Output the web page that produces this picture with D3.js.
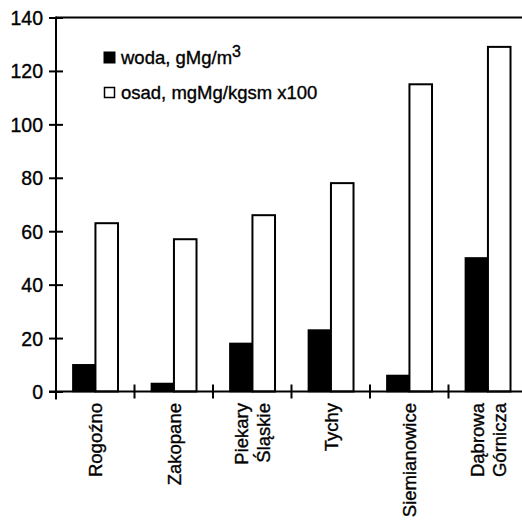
<!DOCTYPE html>
<html>
<head>
<meta charset="utf-8">
<script src="https://cdn.jsdelivr.net/npm/d3@7/dist/d3.min.js"></script>
<style>
  html, body { margin: 0; padding: 0; background: #fff; }
  svg text { font-family: "Liberation Sans", Arial, sans-serif; fill: #000; stroke: #000; stroke-width: 0.35px; }
</style>
</head>
<body>
<svg id="chart" width="522" height="520"></svg>
<script>
const categories = [["Rogoźno"], ["Zakopane"], ["Piekary", "Śląskie"], ["Tychy"], ["Siemianowice"], ["Dąbrowa", "Górnicza"]];
const seriesNames = ["woda", "osad"];
const woda = [10, 3, 18, 23, 6, 50];
const osad = [63, 57, 66, 78, 115, 129];
const yTicks = [0, 20, 40, 60, 80, 100, 120, 140];

const svg = d3.select("#chart");
const plotLeft = 56, plotTop = 17.5, plotBottom = 391.5, plotRight = 527;

const keys = categories.map(c => c.join(" "));
const x = d3.scaleBand().domain(keys).range([plotLeft, plotRight]).paddingInner(0).paddingOuter(0);
const gw = x.bandwidth();
const xs = d3.scaleBand().domain(seriesNames).range([gw * 0.215, gw * 0.79]).paddingInner(0);
const y = d3.scaleLinear().domain([0, 140]).range([plotBottom, plotTop]);

const data = keys.map((k, i) => ({ key: k, woda: woda[i], osad: osad[i] }));

// bars
const g = svg.append("g");
data.forEach(d => {
  g.append("rect")
    .attr("x", x(d.key) + xs("woda"))
    .attr("y", y(d.woda))
    .attr("width", xs.bandwidth())
    .attr("height", y(0) - y(d.woda))
    .attr("fill", "#000")
    .attr("stroke", "#000")
    .attr("stroke-width", 1.5);
  g.append("rect")
    .attr("x", x(d.key) + xs("osad"))
    .attr("y", y(d.osad))
    .attr("width", xs.bandwidth())
    .attr("height", y(0) - y(d.osad))
    .attr("fill", "#fff")
    .attr("stroke", "#000")
    .attr("stroke-width", 2);
});

// top frame line
svg.append("line").attr("x1", plotLeft).attr("x2", 522).attr("y1", y(140)).attr("y2", y(140))
  .attr("stroke", "#000").attr("stroke-width", 2);

// y axis
const yAxis = d3.axisLeft(y).tickValues(yTicks).tickSize(0).tickPadding(0);
const ya = svg.append("g").attr("transform", `translate(${plotLeft},0)`).call(yAxis);
ya.select(".domain").remove();
ya.selectAll(".tick line").remove();
ya.selectAll(".tick").append("line").attr("x1", -7).attr("x2", 7).attr("stroke", "#000").attr("stroke-width", 2);
ya.selectAll(".tick text").attr("x", -13).attr("dy", "0.36em")
  .style("font-size", "19.5px").attr("font-family", null);
svg.append("line").attr("x1", plotLeft).attr("x2", plotLeft).attr("y1", y(140) - 1).attr("y2", plotBottom + 8)
  .attr("stroke", "#000").attr("stroke-width", 2);

// x axis baseline
svg.append("line").attr("x1", plotLeft - 7).attr("x2", 522).attr("y1", plotBottom).attr("y2", plotBottom)
  .attr("stroke", "#000").attr("stroke-width", 2);
// group boundary ticks
keys.forEach(k => {
  const xx = x(k);
  if (xx > plotLeft + 1) {
    svg.append("line").attr("x1", xx).attr("x2", xx).attr("y1", plotBottom - 7).attr("y2", plotBottom + 7)
      .attr("stroke", "#000").attr("stroke-width", 2);
  }
});

// x labels (rotated)
categories.forEach((lines, i) => {
  const cx = x(keys[i]) + gw / 2;
  const n = lines.length;
  lines.forEach((t, j) => {
    const off = (j - (n - 1) / 2) * 22;
    svg.append("text")
      .attr("transform", `translate(${cx + off + 7},403) rotate(-90)`)
      .attr("text-anchor", "end")
      .style("font-size", "18.5px")
      .text(t);
  });
});

// legend
const lg = svg.append("g");
lg.append("rect").attr("x", 104).attr("y", 52).attr("width", 11).attr("height", 11)
  .attr("fill", "#000").attr("stroke", "#000").attr("stroke-width", 1);
const t1 = lg.append("text").attr("x", 121).attr("y", 64).style("font-size", "18.5px");
t1.append("tspan").text("woda, gMg/m");
t1.append("tspan").attr("dy", -7).style("font-size", "16px").text("3");
lg.append("rect").attr("x", 104.5).attr("y", 87.5).attr("width", 10).attr("height", 10)
  .attr("fill", "#fff").attr("stroke", "#000").attr("stroke-width", 1.5);
lg.append("text").attr("x", 121).attr("y", 99).style("font-size", "18.5px").text("osad, mgMg/kgsm x100");
</script>
</body>
</html>
